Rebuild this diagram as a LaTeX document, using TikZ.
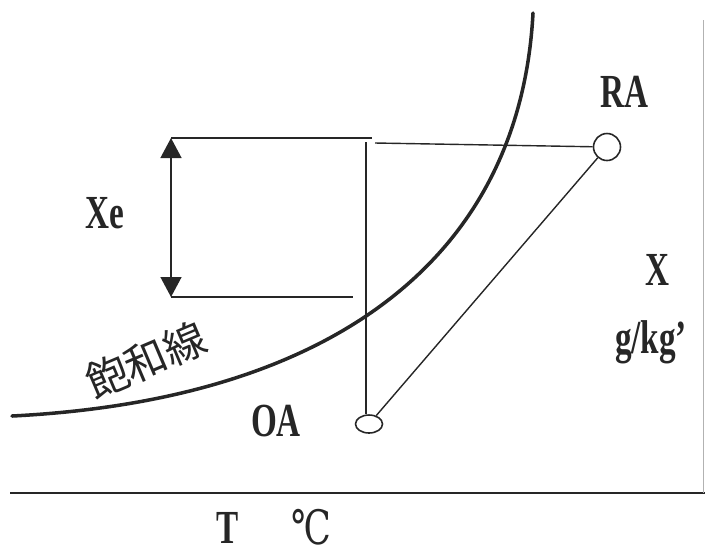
\documentclass[tikz,border=0pt]{standalone}
\usepackage{fontspec}
\setmainfont[FakeStretch=0.7]{Liberation Serif}
\newfontfamily\jpfont{Noto Sans CJK JP}
\newfontfamily\unitfont[FakeStretch=0.75]{DejaVu Serif}
\usepackage{tikz}
\usetikzlibrary{arrows.meta,shapes.geometric,positioning,calc}
\tikzset{
    % Thin connector line
    thinline/.style={
        line width=0.8pt,
        draw=black!85
    },
    % Saturation curve
    satcurve/.style={
        line width=2pt,
        draw=black!85,
        line cap=round
    },
    % State point (RA / OA)
    statenode/.style={
        draw=black!85,
        fill=white,
        line width=0.9pt,
        inner sep=0pt
    },
    % Label text
    labeltext/.style={
        font=\bfseries\fontsize{27}{30}\selectfont,
        text=black!85,
        inner sep=0pt
    },
    % Double arrow
    dimarrow/.style={
        {Triangle[width=4.2mm,length=4mm]}-{Triangle[width=4.2mm,length=4mm]},
        line width=0.8pt,
        draw=black!85,
        fill=black!85
    }
}
\begin{document}
\begin{tikzpicture}[x=0.02cm, y=-0.02cm]
        \useasboundingbox (0,0) rectangle (705,556);

        % Saturation curve
        \coordinate (satstart) at (12,416);
        \coordinate (satend) at (533,13);
        \draw[satcurve] (satstart) .. controls (330,400) and (520,260) .. (satend);
        \node[labeltext, font=\jpfont\fontsize{24}{26}\selectfont, rotate=23] (sat) at (146,360) {飽和線};

        % State points
        \node[statenode, circle, minimum size=0.54cm] (ra) at (607,147) {};
        \node[statenode, ellipse, minimum width=0.54cm, minimum height=0.36cm] (oa) at (369,424) {};
        \node[labeltext] (ralabel) at (624,92) {RA};
        \node[labeltext] (oalabel) at (276,421) {OA};

        % Helper points
        \coordinate (raleft) at (375,143);
        \coordinate (vtop) at (366,142);
        \coordinate (xtop) at (171,138);
        \coordinate (xbot) at (171,297);
        \coordinate (topend) at (372,138);
        \coordinate (botend) at (353,297);
        \coordinate (axisl) at (10,493);
        \coordinate (axisr) at (705,493);
        \coordinate (edgetop) at (703,20);

        % Process lines
        \draw[thinline] (raleft) -- (ra);
        \draw[thinline] (vtop) -- (vtop |- oa.north);
        \draw[thinline] (ra) -- (oa);

        % Xe bracket
        \draw[thinline] (xtop) -- (topend);
        \draw[thinline] (xbot) -- (botend);
        \draw[dimarrow] (xtop) -- (xbot);
        \node[labeltext] (xe) at (105,213) {Xe};

        % Axes
        \draw[thinline] (axisl) -- (axisr);
        \draw[line width=0.5pt, draw=black!30] (edgetop) -- (edgetop |- axisl);
        \node[labeltext] (xlabel) at (657,270) {X};
        \node[labeltext, anchor=base] (xunit) at (651,353) {g/kg'};
        \node[labeltext] (tlabel) at (228,528) {T};
        \node[labeltext, font=\unitfont\fontsize{27}{30}\selectfont] (tunit) at (311,527) {℃};
    \end{tikzpicture}
\end{document}
